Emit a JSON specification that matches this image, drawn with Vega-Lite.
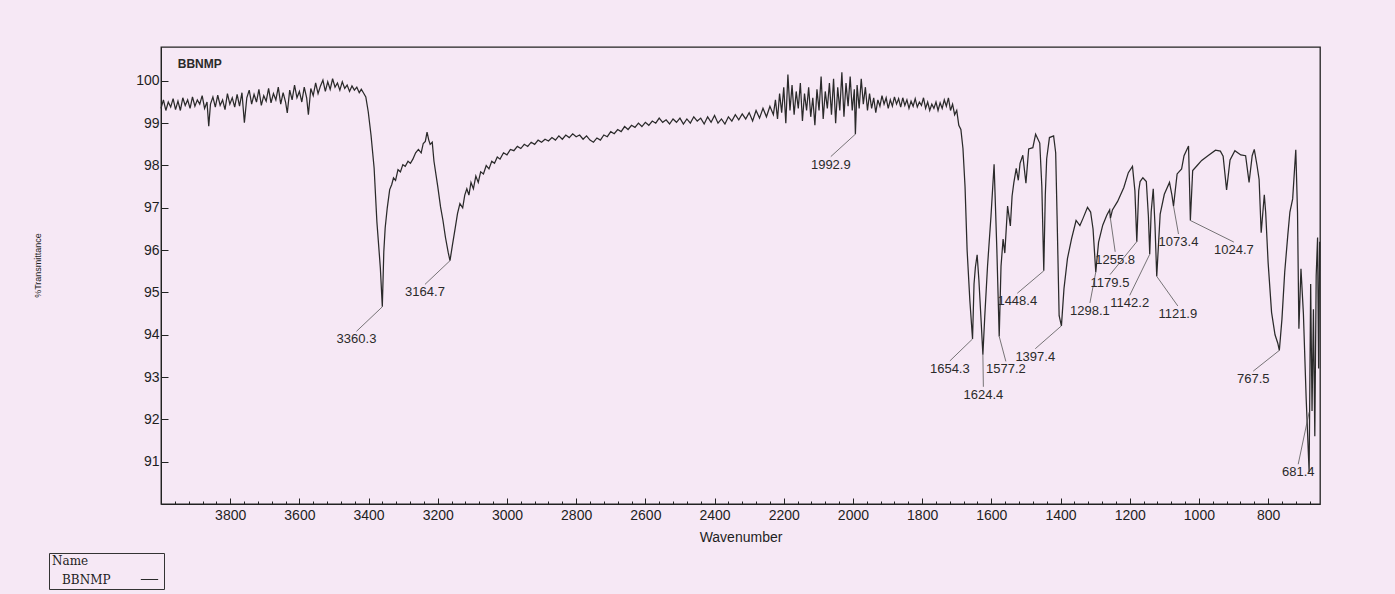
{
"$schema": "https://vega.github.io/schema/vega-lite/v6.json",
"width": 1159,
"height": 457,
"autosize": {"type": "none"},
"padding": {"left": 161, "top": 47, "right": 75, "bottom": 90},
"background": "#f6e8f5",
"config": {"view": {"stroke": "#222222", "strokeWidth": 1.3}, "font": "Liberation Sans"},
"datasets": {
"spectrum": [
{"wn":4000,"t":99.35},{"wn":3993,"t":99.55},{"wn":3986,"t":99.30},{"wn":3979,"t":99.50},{"wn":3972,"t":99.38},{"wn":3965,"t":99.58},{"wn":3958,"t":99.32},{"wn":3951,"t":99.52},{"wn":3944,"t":99.30},{"wn":3937,"t":99.60},{"wn":3930,"t":99.42},{"wn":3923,"t":99.55},{"wn":3916,"t":99.35},{"wn":3909,"t":99.62},{"wn":3902,"t":99.40},{"wn":3895,"t":99.55},{"wn":3888,"t":99.45},{"wn":3881,"t":99.65},{"wn":3874,"t":99.35},{"wn":3867,"t":99.50},{"wn":3862,"t":98.93},{"wn":3857,"t":99.45},{"wn":3850,"t":99.62},{"wn":3843,"t":99.38},{"wn":3836,"t":99.66},{"wn":3829,"t":99.42},{"wn":3822,"t":99.55},{"wn":3815,"t":99.32},{"wn":3808,"t":99.70},{"wn":3801,"t":99.45},{"wn":3794,"t":99.60},{"wn":3787,"t":99.38},{"wn":3780,"t":99.68},{"wn":3773,"t":99.40},{"wn":3766,"t":99.72},{"wn":3759,"t":99.01},{"wn":3752,"t":99.60},{"wn":3745,"t":99.78},{"wn":3738,"t":99.45},{"wn":3731,"t":99.68},{"wn":3724,"t":99.50},{"wn":3717,"t":99.80},{"wn":3710,"t":99.42},{"wn":3703,"t":99.65},{"wn":3696,"t":99.52},{"wn":3689,"t":99.82},{"wn":3682,"t":99.48},{"wn":3675,"t":99.70},{"wn":3668,"t":99.55},{"wn":3661,"t":99.85},{"wn":3654,"t":99.45},{"wn":3647,"t":99.72},{"wn":3640,"t":99.50},{"wn":3635,"t":99.24},{"wn":3628,"t":99.78},{"wn":3621,"t":99.55},{"wn":3614,"t":99.90},{"wn":3607,"t":99.60},{"wn":3600,"t":99.75},{"wn":3593,"t":99.50},{"wn":3586,"t":99.85},{"wn":3579,"t":99.60},{"wn":3574,"t":99.20},{"wn":3567,"t":99.82},{"wn":3560,"t":99.65},{"wn":3553,"t":99.95},{"wn":3546,"t":99.70},{"wn":3539,"t":99.88},{"wn":3532,"t":100.02},{"wn":3525,"t":99.75},{"wn":3518,"t":99.98},{"wn":3511,"t":99.80},{"wn":3504,"t":100.05},{"wn":3497,"t":99.85},{"wn":3490,"t":99.95},{"wn":3483,"t":99.78},{"wn":3476,"t":99.98},{"wn":3469,"t":99.82},{"wn":3462,"t":99.90},{"wn":3455,"t":99.75},{"wn":3448,"t":99.88},{"wn":3441,"t":99.78},{"wn":3434,"t":99.85},{"wn":3427,"t":99.72},{"wn":3421,"t":99.80},{"wn":3415,"t":99.72},{"wn":3408,"t":99.62},{"wn":3401,"t":99.27},{"wn":3393,"t":98.72},{"wn":3384,"t":97.94},{"wn":3376,"t":96.67},{"wn":3366,"t":95.58},{"wn":3360.3,"t":94.66},{"wn":3356,"t":95.96},{"wn":3352,"t":96.53},{"wn":3346,"t":97.00},{"wn":3339,"t":97.43},{"wn":3333,"t":97.55},{"wn":3328,"t":97.71},{"wn":3322,"t":97.65},{"wn":3315,"t":97.90},{"wn":3308,"t":97.85},{"wn":3301,"t":98.02},{"wn":3294,"t":97.98},{"wn":3286,"t":98.10},{"wn":3279,"t":98.05},{"wn":3272,"t":98.15},{"wn":3264,"t":98.30},{"wn":3256,"t":98.38},{"wn":3248,"t":98.30},{"wn":3242,"t":98.52},{"wn":3236,"t":98.57},{"wn":3231,"t":98.79},{"wn":3226,"t":98.60},{"wn":3222,"t":98.50},{"wn":3216,"t":98.55},{"wn":3211,"t":98.10},{"wn":3200,"t":97.50},{"wn":3192,"t":97.02},{"wn":3185,"t":96.70},{"wn":3178,"t":96.31},{"wn":3170,"t":95.95},{"wn":3164.7,"t":95.75},{"wn":3158,"t":96.10},{"wn":3150,"t":96.50},{"wn":3143,"t":96.86},{"wn":3136,"t":97.10},{"wn":3128,"t":97.00},{"wn":3122,"t":97.30},{"wn":3116,"t":97.45},{"wn":3110,"t":97.30},{"wn":3104,"t":97.60},{"wn":3097,"t":97.45},{"wn":3090,"t":97.75},{"wn":3083,"t":97.60},{"wn":3076,"t":97.85},{"wn":3068,"t":97.80},{"wn":3060,"t":98.00},{"wn":3052,"t":97.92},{"wn":3044,"t":98.10},{"wn":3036,"t":98.05},{"wn":3028,"t":98.20},{"wn":3020,"t":98.15},{"wn":3010,"t":98.30},{"wn":3000,"t":98.25},{"wn":2990,"t":98.38},{"wn":2980,"t":98.35},{"wn":2970,"t":98.45},{"wn":2960,"t":98.40},{"wn":2950,"t":98.50},{"wn":2940,"t":98.45},{"wn":2930,"t":98.55},{"wn":2920,"t":98.50},{"wn":2910,"t":98.60},{"wn":2900,"t":98.55},{"wn":2890,"t":98.62},{"wn":2880,"t":98.58},{"wn":2870,"t":98.66},{"wn":2860,"t":98.60},{"wn":2850,"t":98.70},{"wn":2840,"t":98.62},{"wn":2830,"t":98.72},{"wn":2820,"t":98.66},{"wn":2810,"t":98.75},{"wn":2800,"t":98.68},{"wn":2790,"t":98.72},{"wn":2780,"t":98.62},{"wn":2770,"t":98.70},{"wn":2760,"t":98.60},{"wn":2750,"t":98.55},{"wn":2740,"t":98.65},{"wn":2730,"t":98.60},{"wn":2720,"t":98.72},{"wn":2710,"t":98.68},{"wn":2700,"t":98.80},{"wn":2690,"t":98.75},{"wn":2680,"t":98.85},{"wn":2670,"t":98.80},{"wn":2660,"t":98.92},{"wn":2650,"t":98.85},{"wn":2640,"t":98.95},{"wn":2630,"t":98.90},{"wn":2620,"t":99.00},{"wn":2610,"t":98.92},{"wn":2600,"t":99.02},{"wn":2590,"t":98.95},{"wn":2580,"t":99.05},{"wn":2570,"t":99.00},{"wn":2560,"t":99.12},{"wn":2550,"t":99.02},{"wn":2540,"t":99.08},{"wn":2530,"t":98.98},{"wn":2520,"t":99.10},{"wn":2510,"t":99.02},{"wn":2500,"t":99.12},{"wn":2490,"t":98.98},{"wn":2480,"t":99.10},{"wn":2470,"t":99.00},{"wn":2460,"t":99.15},{"wn":2450,"t":99.05},{"wn":2440,"t":99.12},{"wn":2430,"t":98.98},{"wn":2420,"t":99.15},{"wn":2410,"t":99.02},{"wn":2400,"t":99.18},{"wn":2390,"t":99.00},{"wn":2380,"t":99.10},{"wn":2370,"t":98.98},{"wn":2360,"t":99.15},{"wn":2350,"t":99.05},{"wn":2340,"t":99.20},{"wn":2330,"t":99.08},{"wn":2320,"t":99.22},{"wn":2310,"t":99.10},{"wn":2300,"t":99.25},{"wn":2290,"t":99.05},{"wn":2280,"t":99.30},{"wn":2270,"t":99.12},{"wn":2260,"t":99.35},{"wn":2250,"t":99.15},{"wn":2240,"t":99.40},{"wn":2230,"t":99.20},{"wn":2224,"t":99.55},{"wn":2218,"t":99.10},{"wn":2212,"t":99.70},{"wn":2206,"t":99.25},{"wn":2200,"t":99.85},{"wn":2194,"t":99.00},{"wn":2188,"t":100.15},{"wn":2182,"t":99.30},{"wn":2176,"t":99.90},{"wn":2170,"t":99.20},{"wn":2164,"t":99.75},{"wn":2158,"t":99.35},{"wn":2152,"t":99.95},{"wn":2146,"t":99.05},{"wn":2140,"t":99.70},{"wn":2134,"t":99.30},{"wn":2128,"t":99.85},{"wn":2122,"t":99.15},{"wn":2116,"t":99.60},{"wn":2110,"t":98.95},{"wn":2104,"t":99.80},{"wn":2098,"t":99.30},{"wn":2092,"t":100.10},{"wn":2086,"t":99.10},{"wn":2080,"t":99.75},{"wn":2074,"t":99.35},{"wn":2068,"t":99.95},{"wn":2062,"t":99.20},{"wn":2056,"t":100.05},{"wn":2050,"t":99.00},{"wn":2044,"t":99.85},{"wn":2038,"t":99.30},{"wn":2032,"t":100.20},{"wn":2026,"t":99.15},{"wn":2020,"t":99.95},{"wn":2014,"t":99.40},{"wn":2008,"t":100.10},{"wn":2002,"t":99.30},{"wn":1996,"t":99.80},{"wn":1992.9,"t":98.74},{"wn":1988,"t":99.90},{"wn":1982,"t":99.35},{"wn":1976,"t":100.05},{"wn":1970,"t":99.45},{"wn":1964,"t":99.85},{"wn":1958,"t":99.30},{"wn":1952,"t":99.70},{"wn":1946,"t":99.35},{"wn":1940,"t":99.60},{"wn":1934,"t":99.25},{"wn":1928,"t":99.55},{"wn":1922,"t":99.40},{"wn":1916,"t":99.65},{"wn":1910,"t":99.45},{"wn":1904,"t":99.60},{"wn":1898,"t":99.35},{"wn":1892,"t":99.55},{"wn":1886,"t":99.40},{"wn":1880,"t":99.62},{"wn":1874,"t":99.45},{"wn":1868,"t":99.58},{"wn":1862,"t":99.38},{"wn":1856,"t":99.60},{"wn":1850,"t":99.42},{"wn":1844,"t":99.55},{"wn":1838,"t":99.35},{"wn":1832,"t":99.52},{"wn":1826,"t":99.40},{"wn":1820,"t":99.58},{"wn":1814,"t":99.38},{"wn":1808,"t":99.50},{"wn":1802,"t":99.42},{"wn":1796,"t":99.60},{"wn":1790,"t":99.35},{"wn":1784,"t":99.50},{"wn":1778,"t":99.30},{"wn":1772,"t":99.45},{"wn":1766,"t":99.35},{"wn":1760,"t":99.50},{"wn":1754,"t":99.30},{"wn":1748,"t":99.48},{"wn":1742,"t":99.35},{"wn":1736,"t":99.55},{"wn":1730,"t":99.40},{"wn":1724,"t":99.60},{"wn":1718,"t":99.30},{"wn":1712,"t":99.45},{"wn":1706,"t":99.20},{"wn":1700,"t":99.30},{"wn":1694,"t":98.95},{"wn":1688,"t":98.85},{"wn":1682,"t":98.40},{"wn":1676,"t":97.50},{"wn":1670,"t":96.00},{"wn":1662,"t":94.80},{"wn":1654.3,"t":93.90},{"wn":1650,"t":95.20},{"wn":1646,"t":95.60},{"wn":1641,"t":95.89},{"wn":1636,"t":95.30},{"wn":1630,"t":94.40},{"wn":1624.4,"t":93.53},{"wn":1619,"t":94.43},{"wn":1611,"t":95.62},{"wn":1601,"t":96.80},{"wn":1592,"t":98.03},{"wn":1584,"t":96.00},{"wn":1577.2,"t":93.96},{"wn":1572,"t":95.62},{"wn":1566,"t":96.26},{"wn":1561,"t":95.93},{"wn":1553,"t":97.04},{"wn":1545,"t":96.57},{"wn":1540,"t":97.28},{"wn":1535,"t":97.59},{"wn":1528,"t":97.93},{"wn":1522,"t":97.65},{"wn":1517,"t":98.05},{"wn":1509,"t":98.24},{"wn":1500,"t":97.58},{"wn":1492,"t":98.39},{"wn":1480,"t":98.42},{"wn":1472,"t":98.74},{"wn":1460,"t":98.53},{"wn":1454,"t":97.50},{"wn":1448.4,"t":95.51},{"wn":1444,"t":97.30},{"wn":1440,"t":98.16},{"wn":1432,"t":98.66},{"wn":1420,"t":98.70},{"wn":1414,"t":98.30},{"wn":1410,"t":96.82},{"wn":1404,"t":94.45},{"wn":1397.4,"t":94.21},{"wn":1390,"t":95.09},{"wn":1380,"t":95.80},{"wn":1368,"t":96.27},{"wn":1355,"t":96.70},{"wn":1344,"t":96.58},{"wn":1335,"t":96.75},{"wn":1322,"t":97.01},{"wn":1313,"t":96.90},{"wn":1306,"t":96.50},{"wn":1298.1,"t":95.48},{"wn":1290,"t":96.19},{"wn":1278,"t":96.59},{"wn":1266,"t":96.83},{"wn":1258,"t":96.95},{"wn":1255.8,"t":96.75},{"wn":1250,"t":96.95},{"wn":1235,"t":97.15},{"wn":1217,"t":97.48},{"wn":1204,"t":97.83},{"wn":1192,"t":97.98},{"wn":1185,"t":97.40},{"wn":1179.5,"t":96.20},{"wn":1174,"t":97.40},{"wn":1170,"t":97.62},{"wn":1162,"t":97.71},{"wn":1152,"t":97.62},{"wn":1146,"t":96.80},{"wn":1142.2,"t":95.90},{"wn":1138,"t":96.90},{"wn":1132,"t":97.45},{"wn":1127,"t":96.60},{"wn":1121.9,"t":95.38},{"wn":1112,"t":96.85},{"wn":1100,"t":97.32},{"wn":1085,"t":97.60},{"wn":1078,"t":97.30},{"wn":1073.4,"t":97.04},{"wn":1063,"t":97.80},{"wn":1050,"t":97.92},{"wn":1043,"t":98.23},{"wn":1030,"t":98.46},{"wn":1027,"t":97.50},{"wn":1024.7,"t":96.70},{"wn":1018,"t":97.88},{"wn":1005,"t":98.00},{"wn":992,"t":98.12},{"wn":972,"t":98.24},{"wn":952,"t":98.36},{"wn":938,"t":98.34},{"wn":930,"t":98.22},{"wn":920,"t":97.42},{"wn":910,"t":98.13},{"wn":896,"t":98.35},{"wn":879,"t":98.25},{"wn":865,"t":98.23},{"wn":855,"t":97.60},{"wn":846,"t":98.23},{"wn":840,"t":98.38},{"wn":832,"t":98.00},{"wn":826,"t":97.67},{"wn":820,"t":96.41},{"wn":811,"t":97.31},{"wn":807,"t":96.89},{"wn":800,"t":95.71},{"wn":790,"t":94.53},{"wn":780,"t":94.00},{"wn":772,"t":93.80},{"wn":767.5,"t":93.63},{"wn":760,"t":94.37},{"wn":752,"t":95.48},{"wn":743,"t":96.36},{"wn":737,"t":96.90},{"wn":729,"t":97.21},{"wn":720,"t":98.37},{"wn":715,"t":96.90},{"wn":711,"t":94.14},{"wn":705,"t":95.56},{"wn":698,"t":94.50},{"wn":690,"t":92.50},{"wn":681.4,"t":90.75},{"wn":677,"t":95.20},{"wn":673,"t":92.20},{"wn":669,"t":94.60},{"wn":665,"t":91.60},{"wn":661,"t":95.40},{"wn":657,"t":96.30},{"wn":654,"t":93.20},{"wn":651,"t":96.20}
],
"peaks": [
{"label":"3360.3","wn":3360.3,"t":94.66,"lx":3435,"ly":94.08},
{"label":"3164.7","wn":3164.7,"t":95.75,"lx":3237,"ly":95.19},
{"label":"1992.9","wn":1992.9,"t":98.74,"lx":2064,"ly":98.21},
{"label":"1654.3","wn":1654.3,"t":93.9,"lx":1720,"ly":93.38},
{"label":"1624.4","wn":1624.4,"t":93.53,"lx":1623,"ly":92.77},
{"label":"1577.2","wn":1577.2,"t":93.96,"lx":1558,"ly":93.37},
{"label":"1448.4","wn":1448.4,"t":95.51,"lx":1525,"ly":94.98},
{"label":"1397.4","wn":1397.4,"t":94.21,"lx":1473,"ly":93.67},
{"label":"1298.1","wn":1298.1,"t":95.48,"lx":1315,"ly":94.75},
{"label":"1255.8","wn":1255.8,"t":96.75,"lx":1242,"ly":95.96},
{"label":"1179.5","wn":1179.5,"t":96.2,"lx":1257,"ly":95.42},
{"label":"1142.2","wn":1142.2,"t":95.9,"lx":1200,"ly":94.93},
{"label":"1121.9","wn":1121.9,"t":95.38,"lx":1061,"ly":94.68},
{"label":"1073.4","wn":1073.4,"t":97.04,"lx":1059,"ly":96.38},
{"label":"1024.7","wn":1024.7,"t":96.7,"lx":899,"ly":96.19},
{"label":"767.5","wn":767.5,"t":93.63,"lx":843,"ly":93.14},
{"label":"681.4","wn":681.4,"t":92.17,"lx":713,"ly":90.94}
],
"sample": [{"label":"BBNMP","wn":3888,"t":100.39}]
},
"resolve": {"axis": {"x": "independent"}},
"layer": [
{
"data": {"name": "spectrum"},
"mark": {"type": "line", "strokeWidth": 1.25},
"encoding": {
"x": {"field": "wn", "type": "quantitative", "scale": {"domain": [650, 4000], "reverse": true, "nice": false, "zero": false},
 "axis": {"values": [3800,3600,3400,3200,3000,2800,2600,2400,2200,2000,1800,1600,1400,1200,1000,800], "format": "d", "tickSize": -6, "labelPadding": 10, "labelFontSize": 14, "labelColor": "#1e1e1e", "tickColor": "#222222", "domainColor": "#222222", "grid": false, "title": "Wavenumber", "titleFontSize": 14, "titleFontWeight": "normal", "titleColor": "#1e1e1e", "titlePadding": 8}},
"y": {"field": "t", "type": "quantitative", "scale": {"domain": [90, 100.8], "nice": false, "zero": false},
 "axis": {"values": [91,92,93,94,95,96,97,98,99,100], "format": "d", "tickSize": -7, "labelPadding": 9, "labelFontSize": 14, "labelColor": "#1e1e1e", "tickColor": "#222222", "domainColor": "#222222", "grid": false, "title": "%Transmittance", "titleFontSize": 9, "titleFontWeight": "normal", "titleColor": "#1e1e1e", "titleX": -119, "titleY": 218}},
"color": {"datum": "BBNMP", "type": "nominal", "scale": {"range": ["#2a2a2a"]},
 "legend": {"title": "Name", "orient": "none", "legendX": -112, "legendY": 506, "symbolType": "stroke", "symbolStrokeWidth": 1, "symbolSize": 300, "symbolStrokeColor": "#555555", "symbolOffset": 88, "labelOffset": -97, "strokeColor": "#333333", "padding": 3, "titlePadding": 2, "titleFont": "DejaVu Serif", "labelFont": "DejaVu Serif", "titleFontSize": 12, "labelFontSize": 12, "titleFontWeight": "normal", "titleColor": "#222222", "labelColor": "#222222"}}
}
},
{
"data": {"name": "peaks"},
"mark": {"type": "rule", "color": "#555555", "strokeWidth": 0.8},
"encoding": {
"x": {"field": "wn", "type": "quantitative", "axis": null},
"y": {"field": "t", "type": "quantitative"},
"x2": {"field": "lx"},
"y2": {"field": "ly"}
}
},
{
"data": {"name": "peaks"},
"mark": {"type": "text", "fontSize": 13, "align": "center", "baseline": "top", "dy": 2, "color": "#2a2a2a"},
"encoding": {
"x": {"field": "lx", "type": "quantitative", "axis": null},
"y": {"field": "ly", "type": "quantitative"},
"text": {"field": "label"}
}
},
{
"data": {"name": "sample"},
"mark": {"type": "text", "fontSize": 12, "fontWeight": "bold", "align": "center", "baseline": "middle", "color": "#2a2a2a"},
"encoding": {
"x": {"field": "wn", "type": "quantitative",
 "axis": {"orient": "bottom", "values": [3960,3920,3880,3840,3800,3760,3720,3680,3640,3600,3560,3520,3480,3440,3400,3360,3320,3280,3240,3200,3160,3120,3080,3040,3000,2960,2920,2880,2840,2800,2760,2720,2680,2640,2600,2560,2520,2480,2440,2400,2360,2320,2280,2240,2200,2160,2120,2080,2040,2000,1960,1920,1880,1840,1800,1760,1720,1680,1640,1600,1560,1520,1480,1440,1400,1360,1320,1280,1240,1200,1160,1120,1080,1040,1000,960,920,880,840,800,760,720,680], "labels": false, "tickSize": -3, "domain": false, "grid": false, "title": null, "tickColor": "#222222"}},
"y": {"field": "t", "type": "quantitative"},
"text": {"field": "label"}
}
}
]
}
